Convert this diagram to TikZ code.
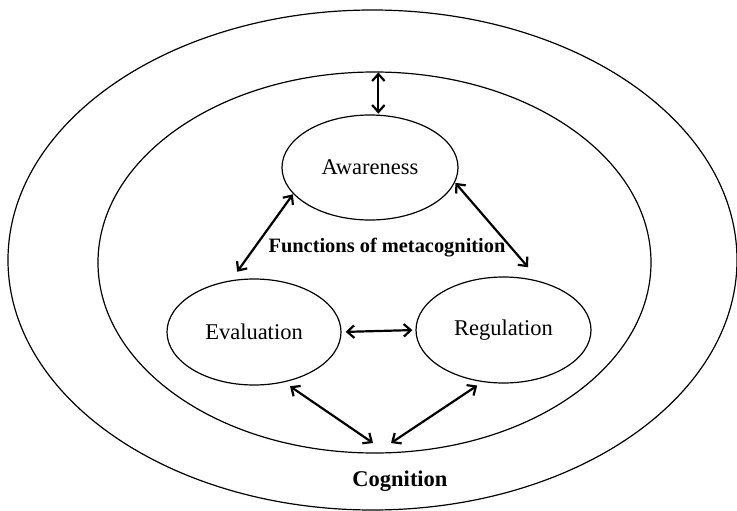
\documentclass[tikz,border=0pt]{standalone}
\usepackage{fontspec}
\setmainfont{Liberation Serif}
\usetikzlibrary{shapes.geometric,arrows.meta}
\tikzset{
  ring/.style={ellipse,draw,line width=1.2pt,inner sep=0pt},
  func/.style={ellipse,draw,line width=1.2pt,inner sep=0pt,minimum width=176pt,minimum height=105pt,font=\fontsize{22.5}{26}\selectfont},
  link/.style={line width=2.2pt,{Straight Barb[length=7pt,width=12.5pt]}-{Straight Barb[length=7pt,width=12.5pt]}},
  lbl/.style={font=\fontsize{22.5}{26}\selectfont\bfseries}
}
\begin{document}
\begin{tikzpicture}[x=1pt,y=-1pt]
\useasboundingbox (0,0) rectangle (737,511);
\node[ring,minimum width=729pt,minimum height=500pt] (outer) at (372.5,260) {};
\node[ring,minimum width=553pt,minimum height=381pt] (inner) at (374.5,262.5) {};
\node[func] (aw) at (370,167.5) {Awareness};
\node[func,minimum width=174pt,minimum height=106pt] (ev) at (254,332) {Evaluation};
\node[func,minimum width=175pt,minimum height=106pt] (reg) at (503.5,330) {Regulation};
\node[font=\fontsize{20.4}{24}\selectfont\bfseries] (fm) at (387,248) {Functions of metacognition};
\node[lbl] (cog) at (400,481) {Cognition};
\coordinate (c1) at (373,443);
\coordinate (c2) at (391,443);
\draw[link,shorten <=1pt,shorten >=1pt] (aw.81) -- (aw.81 |- inner.north);
\draw[link,shorten <=0.5pt,shorten >=10.5pt] (aw.199) -- (ev.114);
\draw[link,shorten <=0.5pt,shorten >=18.5pt] (aw.350) -- (reg.53);
\draw[link,shorten <=4pt,shorten >=3pt] (ev.east) -- (reg.west);
\draw[link,shorten <=7pt] (ev.-59) -- (c1);
\draw[link,shorten <=6.3pt] (reg.248) -- (c2);
\end{tikzpicture}
\end{document}
